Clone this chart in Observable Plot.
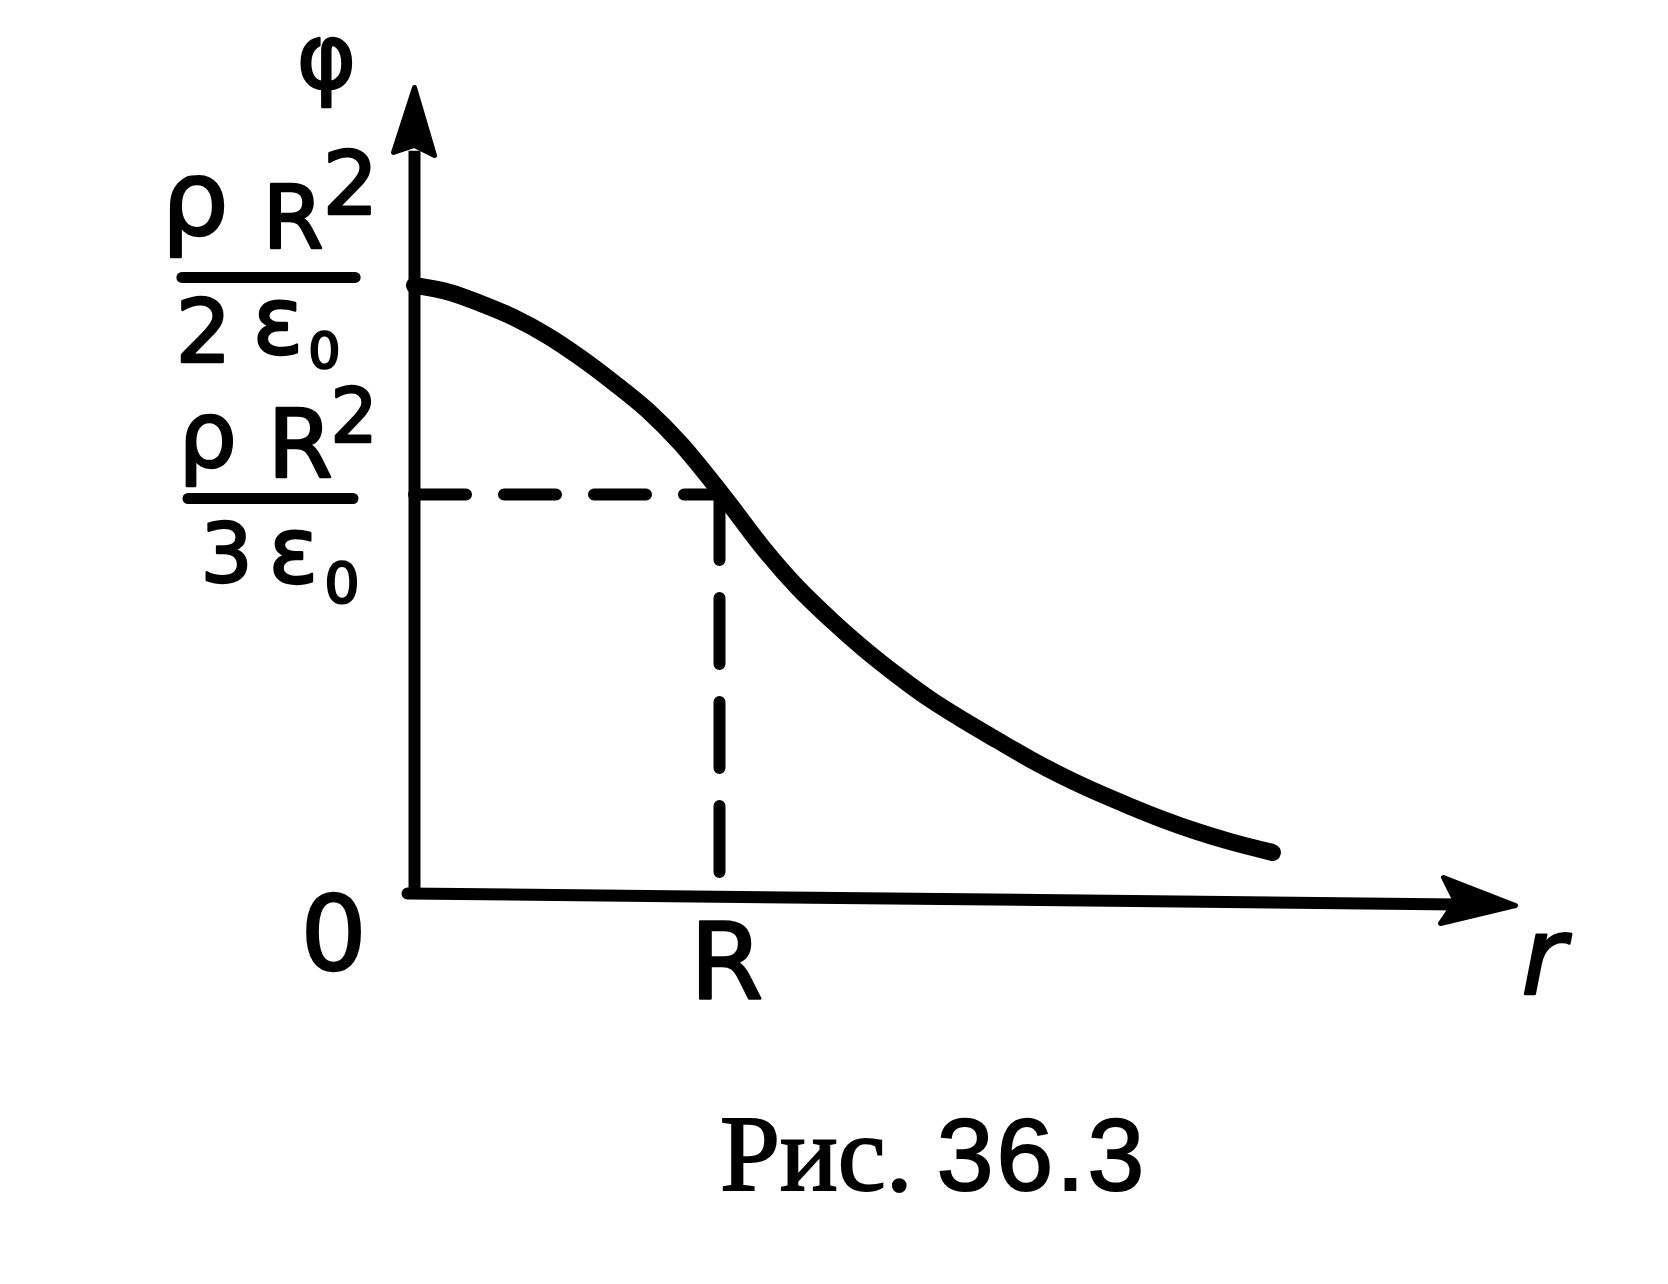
<!DOCTYPE html>
<html>
<head>
<meta charset="utf-8">
<script src="https://cdn.jsdelivr.net/npm/d3@7"></script>
<script src="https://cdn.jsdelivr.net/npm/@observablehq/plot@0.6"></script>
<style>
  html, body { margin: 0; padding: 0; background: #fff; }
  #wrap { position: relative; width: 1668px; height: 1284px; background: #fff; }
  #chart { position: absolute; left: 0; top: 0; }
  #caption { position: absolute; left: 720px; top: 1100px; line-height: 1; white-space: nowrap; color: #000; -webkit-text-stroke: 2px #000; }
  #caption .a { font-family: 'Liberation Serif', serif; font-size: 108px; }
  #caption .b { font-family: 'Liberation Sans', sans-serif; font-size: 102px; margin-left: 24px; letter-spacing: 3px; }
</style>
</head>
<body>
<div id="wrap">
  <div id="chart"></div>
  <div id="caption"><span class="a">Рис.</span><span class="b">36.3</span></div>
</div>
<script>
// ---- data (r in units of R, φ in units of ρR²/3ε₀) ----
const rValues   = [0, 0.118, 0.216, 0.325, 0.436, 0.544, 0.652, 0.764, 0.872, 0.980, 1.036, 1.144, 1.256, 1.364, 1.472, 1.584, 1.692, 1.800, 1.911, 2.020, 2.128, 2.240, 2.348, 2.456, 2.567, 2.675, 2.813];
const phiValues = [1.524, 1.506, 1.479, 1.444, 1.398, 1.343, 1.281, 1.211, 1.128, 1.028, 0.973, 0.865, 0.767, 0.687, 0.614, 0.546, 0.486, 0.434, 0.384, 0.336, 0.293, 0.253, 0.218, 0.185, 0.155, 0.130, 0.103];

// tick positions and labels
const yTickValues = [1.5, 1];                 // ρR²/2ε₀ , ρR²/3ε₀
const yTickNumerator = ["ρ", "R", "2"];       // ρ R ²
const yTickDenominatorCoeff = ["2", "3"];
const yTickDenominatorRest = ["ε", "0"];      // ε ₀
const xTickValues = [0, 1];
const xTickLabels = ["0", "R"];
const guidePoint = [{r: 1, phi: 1}];          // (R, ρR²/3ε₀)

// axis extents (hand-drawn axes, slightly tilted x axis)
const xMax = 3.61, yMax = 2.02;
const xAxisR = [-0.023, 3.50];
const xAxisPhi = [0, -0.028];
const xArrowTip = [{r: xMax, phi: -0.030}];
const yArrowTip = [{r: 0, phi: yMax}];
const axisLabels = {y: "φ", x: "r"};

const curve = rValues.map((r, i) => ({r, phi: phiValues[i]}));
const xAxis = xAxisR.map((r, i) => ({r, phi: xAxisPhi[i]}));

const FONT = "'DejaVu Sans', sans-serif";

const arrowUp = {draw(ctx) {
  ctx.moveTo(0, 0); ctx.lineTo(20, 68); ctx.lineTo(0, 58); ctx.lineTo(-21, 65); ctx.closePath();
}};
const arrowRight = {draw(ctx) {
  ctx.moveTo(0, 0); ctx.lineTo(-75, 18); ctx.lineTo(-60, -4); ctx.lineTo(-72, -28); ctx.closePath();
}};

function lab(txt, xv, yv, dx, dy, size, extra = {}) {
  return Plot.text([txt], {
    x: xv, y: yv, text: d => d, dx, dy,
    fontSize: size, fontFamily: FONT, textAnchor: "start", lineAnchor: "bottom",
    fill: "black", stroke: "black", strokeWidth: 2.4, strokeLinejoin: "round",
    ...extra
  });
}

// per-tick glyph offsets (pixels from the tick anchor on the y axis)
const fracLayout = [
  {rho: [-253, -60, 106], R: [-152, -47, 88], pow: [-92, -81, 88], bar: [-0.761, -0.193, -17.5],
   coeff: [-239, 67, 88], eps: [-162, 59, 94], sub: [-106, 73, 50]},
  {rho: [-236, -27, 92], R: [-147, -17, 94], pow: [-84, -52, 74], bar: [-0.741, -0.200, 4],
   coeff: [-214, 88, 82], eps: [-146, 89, 92], sub: [-90, 108, 55]}
];

const marks = [];
// axes
marks.push(Plot.line(xAxis, {x: "r", y: "phi", stroke: "black", strokeWidth: 12}));
marks.push(Plot.ruleX([0], {y1: -0.013, y2: 1.86, stroke: "black", strokeWidth: 12}));
marks.push(Plot.dot(yArrowTip, {x: "r", y: "phi", symbol: arrowUp, r: 1, fill: "black", stroke: "black", strokeWidth: 5, strokeLinejoin: "round"}));
marks.push(Plot.dot(xArrowTip, {x: "r", y: "phi", symbol: arrowRight, r: 1, fill: "black", stroke: "black", strokeWidth: 5, strokeLinejoin: "round"}));
// dashed guides
marks.push(Plot.ruleY(guidePoint, {y: "phi", x1: 0, x2: "r", stroke: "black", strokeWidth: 12, strokeLinecap: "round", strokeDasharray: "52,38"}));
marks.push(Plot.ruleX(guidePoint, {x: "r", y1: "phi", y2: 0.04, stroke: "black", strokeWidth: 12, strokeLinecap: "round", strokeDasharray: "66,38"}));
// potential curve
marks.push(Plot.line(curve, {x: "r", y: "phi", curve: "monotone-x", stroke: "black", strokeWidth: 17, strokeLinecap: "round", strokeLinejoin: "round"}));

// y tick labels as fractions
yTickValues.forEach((v, i) => {
  const L = fracLayout[i];
  marks.push(lab(yTickNumerator[0], 0, v, L.rho[0], L.rho[1], L.rho[2]));
  marks.push(lab(yTickNumerator[1], 0, v, L.R[0], L.R[1], L.R[2]));
  marks.push(lab(yTickNumerator[2], 0, v, L.pow[0], L.pow[1], L.pow[2]));
  marks.push(Plot.ruleY([v], {x1: L.bar[0], x2: L.bar[1], dy: L.bar[2], stroke: "black", strokeWidth: 11, strokeLinecap: "round"}));
  marks.push(lab(yTickDenominatorCoeff[i], 0, v, L.coeff[0], L.coeff[1], L.coeff[2]));
  marks.push(lab(yTickDenominatorRest[0], 0, v, L.eps[0], L.eps[1], L.eps[2]));
  marks.push(lab(yTickDenominatorRest[1], 0, v, L.sub[0], L.sub[1], L.sub[2]));
});

// x tick labels
marks.push(lab(xTickLabels[0], xTickValues[0], 0, -81, 76, 104, {textAnchor: "middle"}));
marks.push(lab(xTickLabels[1], xTickValues[1], 0, 7, 104, 106, {textAnchor: "middle"}));
// axis names
marks.push(lab(axisLabels.y, 0, yMax, -88, 0, 90, {textAnchor: "middle"}));
marks.push(lab(axisLabels.x, xMax, 0, 28, 100, 108, {textAnchor: "middle", fontStyle: "italic"}));

const H = 1040;
const plot = Plot.plot({
  width: 1668,
  height: H,
  marginLeft: 414,
  marginRight: 1668 - 1515,
  marginTop: 87,
  marginBottom: H - 893,
  x: {domain: [0, xMax], axis: null},
  y: {domain: [0, yMax], axis: null},
  style: {background: "white", overflow: "visible"},
  marks
});
document.getElementById("chart").appendChild(plot);
</script>
</body>
</html>
